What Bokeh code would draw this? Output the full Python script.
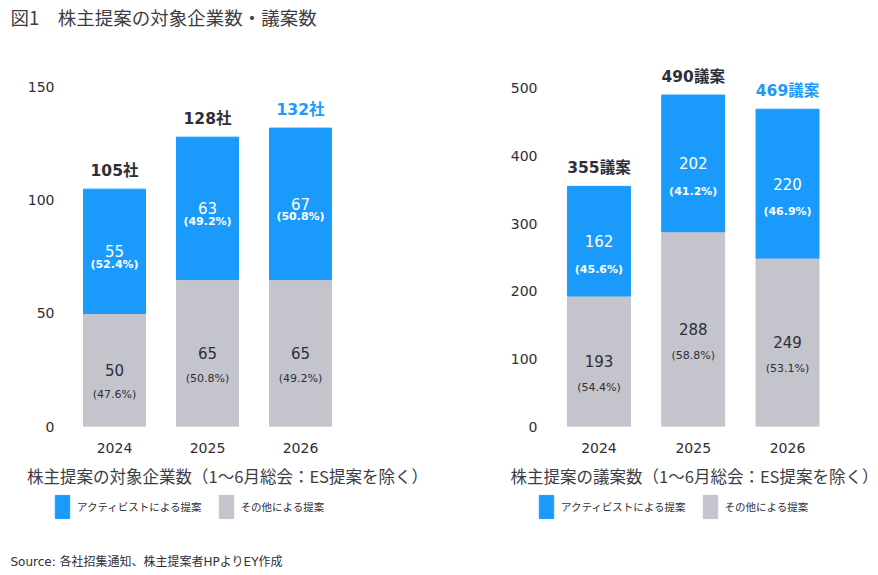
from bokeh.plotting import figure
from bokeh.models import Range1d, FixedTicker, Legend, LegendItem, ColumnDataSource, Label
from bokeh.layouts import row, column
from bokeh.embed import file_html
from bokeh.resources import INLINE
from bokeh.core.properties import value

years = [2024, 2025, 2026]
year_labels = ["2024", "2025", "2026"]

# left chart: companies
co_activist = [55, 63, 67]
co_other = [50, 65, 65]
co_activist_pct = ["(52.4%)", "(49.2%)", "(50.8%)"]
co_other_pct = ["(47.6%)", "(50.8%)", "(49.2%)"]
co_total_labels = ["105社", "128社", "132社"]
co_ticks = [0, 50, 100, 150]

# right chart: proposals
pr_activist = [162, 202, 220]
pr_other = [193, 288, 249]
pr_activist_pct = ["(45.6%)", "(41.2%)", "(46.9%)"]
pr_other_pct = ["(54.4%)", "(58.8%)", "(53.1%)"]
pr_total_labels = ["355議案", "490議案", "469議案"]
pr_ticks = [0, 100, 200, 300, 400, 500]

title_text = "図1　株主提案の対象企業数・議案数"
source_text = "Source: 各社招集通知、株主提案者HPよりEY作成"
series_names = ["アクティビストによる提案", "その他による提案"]
subtitle_left = "株主提案の対象企業数（1～6月総会：ES提案を除く）"
subtitle_right = "株主提案の議案数（1～6月総会：ES提案を除く）"

BLUE = "#1a9bfc"
GRAY = "#c4c4cd"
TXT = "#2e2e38"
CJK = "Noto Sans CJK JP"
NUM = "DejaVu Sans"
MIX = "DejaVu Sans, Noto Sans CJK JP"


def blank(width, height):
    f = figure(width=width, height=height, output_backend="svg", toolbar_location=None,
               x_range=Range1d(0, 1), y_range=Range1d(0, 1),
               x_axis_type=None, y_axis_type=None,
               min_border_left=0, min_border_right=0, min_border_top=0, min_border_bottom=0)
    f.outline_line_color = None
    f.grid.visible = False
    return f


def make_chart(width, height, mbl, mbr, mbt, mbb, xr, yr, ticks, activist, other,
               apct, opct, totals, subtitle, bar_w, a_off, o_off):
    p = figure(width=width, height=height, output_backend="svg", toolbar_location=None,
               x_range=Range1d(*xr), y_range=Range1d(*yr),
               min_border_left=mbl, min_border_right=mbr, min_border_top=mbt,
               min_border_bottom=mbb)
    p.outline_line_color = None
    p.grid.visible = False

    tot = [a + o for a, o in zip(activist, other)]
    src = ColumnDataSource(dict(
        x=years, other=other, top=tot,
        ocen=[o / 2 for o in other], acen=[o + a / 2 for a, o in zip(activist, other)],
        anum=[str(a) for a in activist], onum=[str(o) for o in other],
        apct=apct, opct=opct, tl=totals,
        tcol=[TXT, TXT, BLUE],
    ))
    p.vbar(x="x", bottom=0, top="other", width=bar_w, color=GRAY, source=src)
    p.vbar(x="x", bottom="other", top="top", width=bar_w, color=BLUE, source=src)

    # value labels
    p.text(x="x", y="acen", text="anum", source=src, text_align="center",
           text_baseline="middle", text_color="white", text_font=value(NUM),
           text_font_size="15px")
    p.text(x="x", y="acen", text="apct", source=src, text_align="center",
           text_baseline="middle", text_color="white", text_font=value(NUM),
           text_font_size="11px", text_font_style="bold", y_offset=a_off)
    p.text(x="x", y="ocen", text="onum", source=src, text_align="center",
           text_baseline="middle", text_color=TXT, text_font=value(NUM),
           text_font_size="15px")
    p.text(x="x", y="ocen", text="opct", source=src, text_align="center",
           text_baseline="middle", text_color=TXT, text_font=value(NUM),
           text_font_size="11px", y_offset=o_off)
    p.text(x="x", y="top", text="tl", source=src, text_align="center",
           text_baseline="bottom", text_color="tcol", text_font=value(MIX),
           text_font_size="15.5px", text_font_style="bold", y_offset=-9)

    # axes
    p.yaxis.ticker = FixedTicker(ticks=ticks)
    p.yaxis.axis_line_color = None
    p.yaxis.major_tick_line_color = None
    p.yaxis.minor_tick_line_color = None
    p.yaxis.major_label_standoff = 2
    p.yaxis.major_label_text_font = NUM
    p.yaxis.major_label_text_font_size = "14px"
    p.yaxis.major_label_text_color = TXT

    p.xaxis.ticker = FixedTicker(ticks=years)
    p.xaxis.major_label_overrides = {y: l for y, l in zip(years, year_labels)}
    p.xaxis.axis_line_color = None
    p.xaxis.major_tick_line_color = None
    p.xaxis.minor_tick_line_color = None
    p.xaxis.major_label_standoff = 10
    p.xaxis.major_label_text_font = NUM
    p.xaxis.major_label_text_font_size = "14px"
    p.xaxis.major_label_text_color = TXT
    p.xaxis.axis_label = subtitle
    p.xaxis.axis_label_text_font = CJK
    p.xaxis.axis_label_text_font_size = "16.5px"
    p.xaxis.axis_label_text_font_style = "normal"
    p.xaxis.axis_label_text_color = "#3c3c46"
    p.xaxis.axis_label_standoff = 8
    return p


def legend_strip(width, height, leg_x, leg_y, activist, other):
    f = blank(width, height)
    src = ColumnDataSource(dict(x=years, other=other, activist=activist))
    r1 = f.vbar(x="x", top="activist", width=0.5, color=BLUE, source=src, visible=False)
    r2 = f.vbar(x="x", top="other", width=0.5, color=GRAY, source=src, visible=False)
    legend = Legend(items=[LegendItem(label=series_names[0], renderers=[r1]),
                           LegendItem(label=series_names[1], renderers=[r2])],
                    orientation="horizontal", location=(leg_x, leg_y),
                    glyph_width=18, glyph_height=29, label_standoff=6,
                    spacing=15, padding=0, margin=0,
                    border_line_color=None, background_fill_alpha=0,
                    label_text_font=CJK, label_text_font_size="10.5px",
                    label_text_color=TXT)
    f.add_layout(legend, "center")
    return f


top = blank(878, 45)
top.add_layout(Label(x=10, y=29, x_units="screen", y_units="screen", text=title_text,
                     text_font=CJK, text_font_size="18.5px", text_color="#3c3c46",
                     text_baseline="middle"))

p1 = make_chart(440, 445, 62, 48, 8, 61, (2023.441, 2026.989), (0, 165), co_ticks,
                co_activist, co_other, co_activist_pct, co_other_pct, co_total_labels,
                subtitle_left, 0.667, 13, 25)
p2 = make_chart(438, 445, 105, 35, 8, 58, (2023.433, 2026.594), (0, 551.4), pr_ticks,
                pr_activist, pr_other, pr_activist_pct, pr_other_pct, pr_total_labels,
                subtitle_right, 0.668, 28, 26)

leg1 = legend_strip(440, 80, 53, 49, co_activist, co_other)
leg2 = legend_strip(438, 80, 97, 49, pr_activist, pr_other)
leg1.add_layout(Label(x=10, y=9, x_units="screen", y_units="screen", text=source_text,
                      text_font=MIX, text_font_size="12px", text_color=TXT,
                      text_baseline="middle"))

layout = column(top, row(p1, p2), row(leg1, leg2))
open("out.html", "w").write(file_html(layout, INLINE))
